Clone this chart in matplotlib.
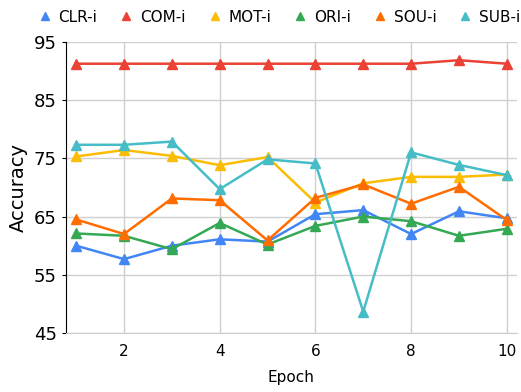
import matplotlib.pyplot as plt
from matplotlib.lines import Line2D

epochs = [1, 2, 3, 4, 5, 6, 7, 8, 9, 10]
clr = [60.0, 57.7, 60.0, 61.1, 60.7, 65.4, 66.1, 62.0, 65.9, 64.7]
com = [91.2, 91.2, 91.2, 91.2, 91.2, 91.2, 91.2, 91.2, 91.8, 91.2]
mot = [75.3, 76.4, 75.4, 73.8, 75.2, 67.4, 70.7, 71.8, 71.8, 72.2]
ori = [62.1, 61.7, 59.4, 63.9, 60.2, 63.4, 65.0, 64.2, 61.7, 62.9]
sou = [64.5, 62.0, 68.1, 67.8, 60.9, 68.2, 70.5, 67.2, 70.1, 64.4]
sub = [77.3, 77.3, 77.85, 69.7, 74.8, 74.1, 48.7, 76.0, 73.85, 72.1]

names = ['CLR-i', 'COM-i', 'MOT-i', 'ORI-i', 'SOU-i', 'SUB-i']
series = [clr, com, mot, ori, sou, sub]
colors = ['#4285F4', '#EA4335', '#FBBC04', '#34A853', '#FF6D01', '#46BDC6']

fig = plt.figure(figsize=(5.21, 3.92), dpi=100)
ax = fig.add_axes([0.126, 0.150, 0.866, 0.744])

for vals, c in zip(series, colors):
    ax.plot(epochs, vals, color=c, lw=1.8, marker='^', markersize=7, zorder=3)

ax.set_xlim(0.78, 10.21)
ax.set_ylim(45, 95)
ax.set_yticks([45, 55, 65, 75, 85, 95])
ax.set_xticks([2, 4, 6, 8, 10])
ax.grid(True, color='#d0d0d0', lw=1)
ax.set_axisbelow(True)
for s in ['top', 'right']:
    ax.spines[s].set_visible(False)
ax.spines['left'].set_color('black')
ax.spines['bottom'].set_color('#cccccc')
ax.tick_params(axis='y', labelsize=13, length=3)
ax.tick_params(axis='x', labelsize=11, length=0, pad=8)
ax.set_xlabel('Epoch', fontsize=11, labelpad=8)
ax.set_ylabel('Accuracy', fontsize=14)

handles = [Line2D([], [], color=c, marker='^', lw=0, markersize=6) for c in colors]
fig.legend(handles, names, loc='upper center', bbox_to_anchor=(0.535, 1.01), ncol=6,
           frameon=False, fontsize=11, handletextpad=0.4, columnspacing=1.4,
           handlelength=1.0)

fig.savefig('out.png', dpi=100)
